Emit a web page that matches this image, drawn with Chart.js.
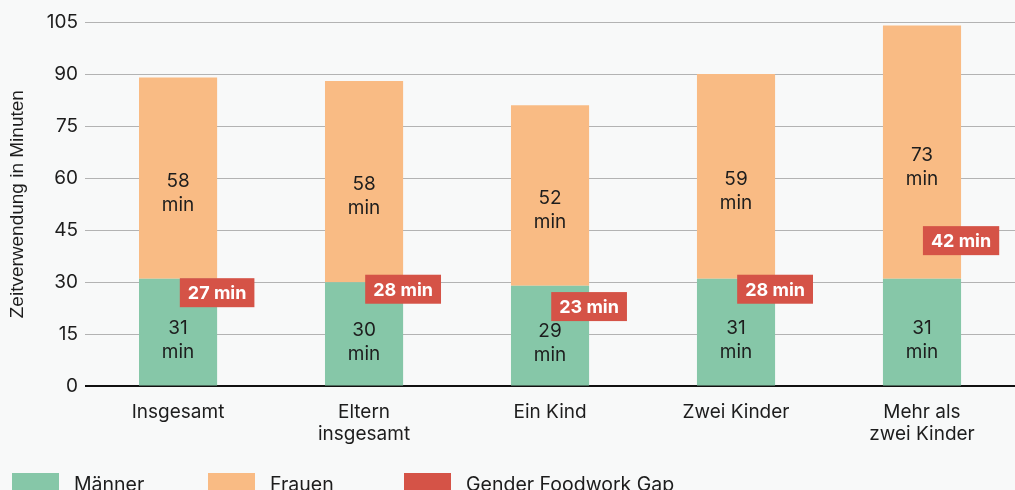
<!DOCTYPE html>
<html>
<head>
<meta charset="utf-8">
<script src="https://cdn.jsdelivr.net/npm/chart.js@4/dist/chart.umd.min.js"></script>
<style>
  html, body { margin: 0; padding: 0; background: #f8f9f9; overflow: hidden; }
  .wrap { width: 1015px; height: 490px; position: relative; }
  .legend { position: absolute; left: 0; top: 473px; width: 1015px; font: 19.5px Inter, sans-serif; color: #1d1d1d; }
  .legend span { position: absolute; top: 0; white-space: nowrap; line-height: 22px; }
  .legend i { position: absolute; top: 0; width: 47px; height: 22px; }
</style>
</head>
<body>
<div class="wrap">
  <canvas id="myChart"></canvas>
  <div class="legend" id="legend"></div>
</div>
<script>
const categories = ["Insgesamt", ["Eltern", "insgesamt"], "Ein Kind", "Zwei Kinder", ["Mehr als", "zwei Kinder"]];
const maenner = [31, 30, 29, 31, 31];
const frauen = [58, 58, 52, 59, 73];
const gaps = [27, 28, 23, 28, 42];
const yTicks = [0, 15, 30, 45, 60, 75, 90, 105];
const legendNames = ["Männer", "Frauen", "Gender Foodwork Gap"];

const green = "#86c7a8";
const orange = "#f9bb84";
const red = "#d55347";
const colors = [green, orange, red];

Chart.defaults.font.family = "Inter, 'Noto Sans', sans-serif";
Chart.defaults.color = "#1d1d1d";

// legend: fixed slots like in the original
const legendEl = document.getElementById("legend");
legendNames.forEach((name, i) => {
	const box = document.createElement("i");
	box.style.left = (12 + i * 196) + "px";
	box.style.background = colors[i];
	const txt = document.createElement("span");
	txt.style.left = (74 + i * 196) + "px";
	txt.textContent = name;
	legendEl.appendChild(box);
	legendEl.appendChild(txt);
});

// labels inside the bars + red gap boxes at the bar's right edge
const barLabels = {
	id: "barLabels",
	afterDatasetsDraw(chart) {
		const ctx = chart.ctx;
		const yScale = chart.scales.y;
		ctx.save();
		ctx.textAlign = "center";
		ctx.textBaseline = "middle";
		ctx.fillStyle = "#1d1d1d";
		ctx.font = "19px Inter, sans-serif";
		const shift = [8, 15];
		[0, 1].forEach(di => {
			const meta = chart.getDatasetMeta(di);
			meta.data.forEach((bar, i) => {
				const v = chart.data.datasets[di].data[i];
				const cy = (bar.y + bar.base) / 2 + shift[di];
				ctx.fillText(v, bar.x, cy - 12);
				ctx.fillText("min", bar.x, cy + 12);
			});
		});
		const meta = chart.getDatasetMeta(0);
		ctx.font = "bold 18px Inter, sans-serif";
		meta.data.forEach((bar, i) => {
			const txt = gaps[i] + " min";
			const x = bar.x + bar.width / 2;
			const y = yScale.getPixelForValue(gaps[i]);
			const w = ctx.measureText(txt).width + 16;
			const h = 29;
			ctx.fillStyle = red;
			ctx.fillRect(x - w / 2, y - h / 2, w, h);
			ctx.fillStyle = "#ffffff";
			ctx.fillText(txt, x, y + 1);
		});
		ctx.restore();
	}
};

new Chart(document.getElementById("myChart").getContext("2d"), {
	type: "bar",
	data: {
		labels: categories,
		datasets: [{
			label: legendNames[0],
			data: maenner,
			backgroundColor: green,
			stack: "s"
		}, {
			label: legendNames[1],
			data: frauen,
			backgroundColor: orange,
			stack: "s"
		}]
	},
	options: {
		responsive: true,
		maintainAspectRatio: false,
		animation: false,
		barPercentage: 0.42,
		categoryPercentage: 1,
		layout: { padding: { left: 4, right: 0, top: 22, bottom: 38 } },
		plugins: {
			tooltip: { enabled: false },
			legend: { display: false }
		},
		scales: {
			x: {
				stacked: true,
				grid: { display: false },
				border: { display: false },
				ticks: { font: { size: 19 }, padding: 6, maxRotation: 0 }
			},
			y: {
				stacked: true,
				min: 0,
				max: 105,
				afterBuildTicks(axis) { axis.ticks = yTicks.map(v => ({ value: v })); },
				border: { display: false },
				grid: {
					drawTicks: false,
					color: ctx => ctx.tick.value === 0 ? "#111111" : "#b3b3b3",
					lineWidth: ctx => ctx.tick.value === 0 ? 2 : 1
				},
				ticks: { font: { size: 19 }, padding: 7 },
				title: {
					display: true,
					text: "Zeitverwendung in Minuten",
					font: { size: 19, family: "'Liberation Sans', Arial, sans-serif" },
					padding: { top: 2, bottom: 11 }
				}
			}
		}
	},
	plugins: [barLabels]
});
</script>
</body>
</html>
